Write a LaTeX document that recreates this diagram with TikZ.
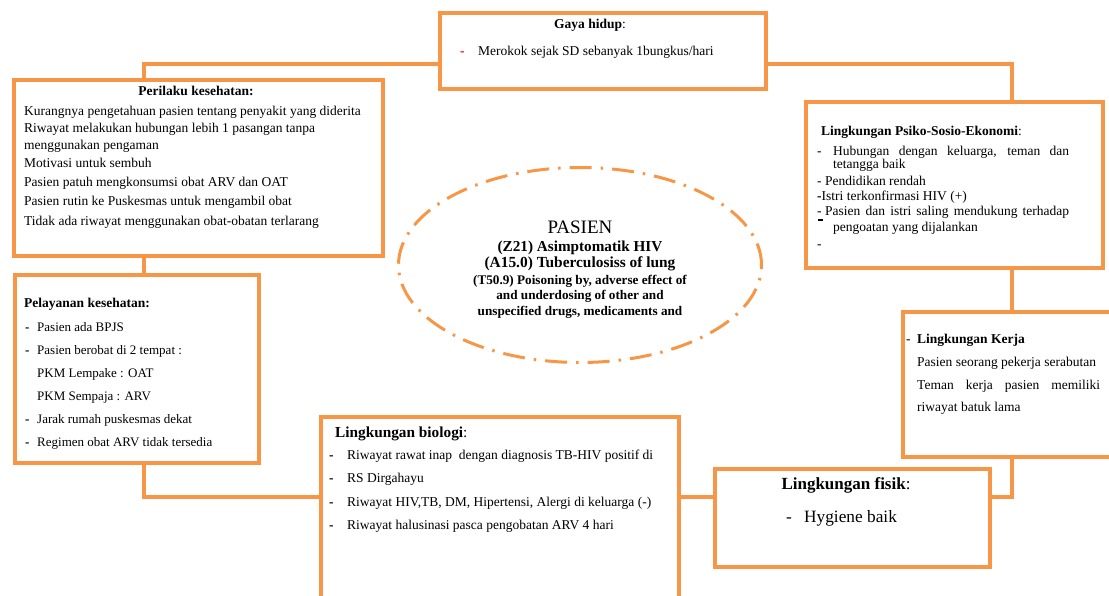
\documentclass[tikz,border=0pt]{standalone}
\usepackage{fontspec}
\setmainfont{Liberation Serif}
\usetikzlibrary{shapes.geometric}
\definecolor{org}{HTML}{F79646}
\begin{document}
\begin{tikzpicture}[x=1pt,y=-1pt,
  box/.style={draw=org, line width=3.5pt, anchor=north west, inner sep=0pt, outer sep=0pt},
  conn/.style={draw=org, line width=4pt},
  txt/.style={anchor=base west, inner sep=0pt, font=\fontsize{13.5}{15}\selectfont},
  mtxt/.style={anchor=base west, inner sep=0pt, font=\fontsize{13}{15}\selectfont},
  stxt/.style={anchor=base west, inner sep=0pt, font=\fontsize{13.5}{15}\selectfont},
  ctxt/.style={anchor=base, inner sep=0pt}]
\useasboundingbox (0,0) rectangle (1109,596);
\clip (0,0) rectangle (1109,596);

% boxes
\node[box, minimum width=326pt, minimum height=76pt] (gaya) at (440,13) {};
\node[box, minimum width=369pt, minimum height=176pt] (peril) at (14,80) {};
\node[box, minimum width=244pt, minimum height=188pt] (pelay) at (15,275) {};
\node[box, minimum width=358pt, minimum height=250pt] (bio) at (321,417) {};
\node[box, minimum width=275pt, minimum height=98pt] (fisik) at (715,469) {};
\node[box, minimum width=250pt, minimum height=145pt] (kerja) at (903,312) {};
\node[box, minimum width=297pt, minimum height=166pt] (psiko) at (806,102) {};

% ellipse
\node[draw=org, line width=3pt, ellipse, minimum width=363pt, minimum height=195pt,
      dash pattern=on 22pt off 9pt on 2.5pt off 9pt, inner sep=0pt] (pas) at (580,265) {};

% connectors
\coordinate (j1) at (144,64);
\coordinate (j2) at (1012,64);
\coordinate (j3) at (144,497);
\draw[conn] (gaya.west |- j1) -| (peril.north -| j1);
\draw[conn] (gaya.east |- j2) -| (psiko.north -| j2);
\draw[conn] (peril.south -| j1) -- (pelay.north -| j1);
\draw[conn] (pelay.south -| j3) |- (bio.west |- j3);
\draw[conn] (bio.east |- j3) -- (fisik.west |- j3);
\draw[conn] (psiko.south -| j2) -- (kerja.north -| j2);
\draw[conn] (kerja.south -| j2) |- (fisik.east |- j3);

% Gaya hidup
\node[stxt, anchor=base] (g0) at (590,29) {\textbf{Gaya hidup}:};
\node[stxt] (g1d) at (460,56) {\textcolor{red}{\textbf{-}}};
\node[stxt] (g1) at (478,56) {Merokok sejak SD sebanyak 1bungkus/hari};

% Perilaku kesehatan
\node[txt, anchor=base] (p0) at (196,96) {\textbf{Perilaku kesehatan:}};
\node[txt] (p1) at (24,116) {Kurangnya pengetahuan pasien tentang penyakit yang diderita};
\node[txt] (p2) at (24,133) {Riwayat melakukan hubungan lebih 1 pasangan tanpa};
\node[txt] (p3) at (24,150) {menggunakan pengaman};
\node[txt] (p4) at (24,168) {Motivasi untuk sembuh};
\node[txt] (p5) at (24,187) {Pasien patuh mengkonsumsi obat ARV dan OAT};
\node[txt] (p6) at (24,206) {Pasien rutin ke Puskesmas untuk mengambil obat};
\node[txt] (p7) at (24,226) {Tidak ada riwayat menggunakan obat-obatan terlarang};

% Pelayanan kesehatan
\node[txt] (s0) at (24,308) {\textbf{Pelayanan kesehatan:}};
\node[mtxt] (s1d) at (25,331) {\textbf{-}};
\node[mtxt] (s1) at (37,331) {Pasien ada BPJS};
\node[mtxt] (s2d) at (25,354) {\textbf{-}};
\node[mtxt] (s2) at (37,354) {Pasien berobat di 2 tempat :};
\node[mtxt] (s3) at (37,377) {PKM Lempake : OAT};
\node[mtxt] (s4) at (37,400) {PKM Sempaja : ARV};
\node[mtxt] (s5d) at (25,423) {\textbf{-}};
\node[mtxt] (s5) at (37,423) {Jarak rumah puskesmas dekat};
\node[mtxt] (s6d) at (25,446) {\textbf{-}};
\node[mtxt] (s6) at (37,446) {Regimen obat ARV tidak tersedia};

% Lingkungan biologi
\node[txt, font=\fontsize{15.3}{18}\selectfont] (b0) at (335,437) {\textbf{Lingkungan biologi}:};
\node[txt] (b1d) at (329,459) {\textbf{-}};
\node[txt] (b1) at (347,459) {Riwayat rawat inap\ \ dengan diagnosis TB-HIV positif di};
\node[txt] (b2d) at (329,482) {\textbf{-}};
\node[txt] (b2) at (347,482) {RS Dirgahayu};
\node[txt] (b3d) at (329,506) {\textbf{-}};
\node[txt] (b3) at (347,506) {Riwayat HIV,TB, DM, Hipertensi, Alergi di keluarga (-)};
\node[txt] (b4d) at (329,529) {\textbf{-}};
\node[txt] (b4) at (347,529) {Riwayat halusinasi pasca pengobatan ARV 4 hari};

% Lingkungan fisik
\node[txt, anchor=base, font=\fontsize{17}{20}\selectfont] (f0) at (846,489) {\textbf{Lingkungan fisik}:};
\node[txt, font=\fontsize{17.3}{20}\selectfont] (f1d) at (786,522) {-};
\node[txt, font=\fontsize{17.3}{20}\selectfont] (f1) at (804,522) {Hygiene baik};

% Lingkungan Psiko-Sosio-Ekonomi
\node[stxt] (e0) at (821,136) {\textbf{Lingkungan Psiko-Sosio-Ekonomi}:};
\node[stxt] (e1d) at (817,156) {-};
\node[stxt] (e1) at (833,156) {\makebox[236pt][s]{Hubungan dengan keluarga, teman dan}};
\node[stxt] (e2) at (833,169) {tetangga baik};
\node[stxt] (e3) at (817,186) {- Pendidikan rendah};
\node[stxt] (e4) at (817,201) {\textbf{-}Istri terkonfirmasi HIV (+)};
\node[stxt] (e5d) at (817,216) {-};
\node[stxt] (e5) at (825,216) {\makebox[244pt][s]{Pasien dan istri saling mendukung terhadap}};
\fill (817.5,219.5) rectangle (822.5,221.5);
\node[stxt] (e6) at (833,232) {pengoatan yang dijalankan};
\node[stxt] (e7) at (817,249) {-};

% Lingkungan Kerja
\node[stxt] (k0d) at (906,343) {-};
\node[stxt] (k0) at (917,343) {\textbf{Lingkungan Kerja}};
\node[stxt] (k1) at (917,366) {Pasien seorang pekerja serabutan};
\node[stxt] (k2) at (917,389) {\makebox[183pt][s]{Teman kerja pasien memiliki}};
\node[stxt] (k3) at (917,411) {riwayat batuk lama};

% Pasien ellipse text
\node[ctxt, font=\fontsize{19}{21}\selectfont] (x0) at (580,234) {PASIEN};
\node[ctxt, font=\fontsize{15.2}{18}\selectfont\bfseries] (x1) at (580,252) {(Z21) Asimptomatik HIV};
\node[ctxt, font=\fontsize{15.4}{18}\selectfont\bfseries] (x2) at (580,268) {(A15.0) Tuberculosiss of lung};
\node[ctxt, font=\fontsize{13.2}{14}\selectfont\bfseries] (x3) at (580,285) {(T50.9) Poisoning by, adverse effect of};
\node[ctxt, font=\fontsize{13.2}{14}\selectfont\bfseries] (x4) at (580,300) {and underdosing of other and};
\node[ctxt, font=\fontsize{13.2}{14}\selectfont\bfseries] (x5) at (580,316) {unspecified drugs, medicaments and};
\end{tikzpicture}
\end{document}
